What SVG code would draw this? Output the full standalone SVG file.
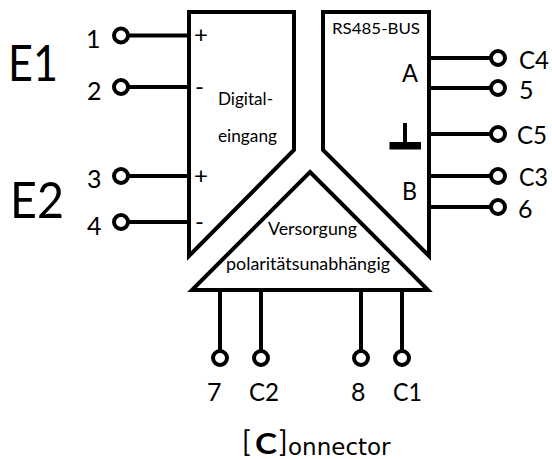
<svg xmlns="http://www.w3.org/2000/svg" width="552" height="459" viewBox="0 0 552 459">
<style>
text{font-family:Lato,"Noto Sans",sans-serif;fill:#000;font-weight:400}
.s{fill:#fff;stroke:#000;stroke-width:4}
.w{fill:none;stroke:#000;stroke-width:4}
.p{fill:#fff;stroke:#000;stroke-width:4}
.n{font-size:25px}
.l{font-size:18px}
.e{font-size:50px}
</style>
<rect width="552" height="459" fill="#fff"/>
<g id="connectors">
<path class="w" d="M129 35.500H189M129 87H189M129 176H189M129 222H189M429 58H497M429 88H497M429 134H497M429 176H497M429 207H497M220 291V358M261 291V358M361 291V358M402 291V358"/>
</g>
<g id="digital"><path class="s" d="M189 12H294V150L189 256Z"/>
<text x="194" y="43" font-size="24">+</text><text x="195" y="95" font-size="24">-</text><text x="194" y="184" font-size="24">+</text><text x="195" y="230" font-size="24">-</text>
<text class="l" x="218" y="105" textLength="55" lengthAdjust="spacingAndGlyphs">Digital-</text><text class="l" x="218" y="142" textLength="59" lengthAdjust="spacingAndGlyphs">eingang</text></g>
<g id="bus"><path class="s" d="M323 12H429V256L323 150Z"/>
<text x="332" y="34" font-size="16" textLength="88" lengthAdjust="spacingAndGlyphs">RS485-BUS</text>
<text x="402" y="82" font-size="25" textLength="16" lengthAdjust="spacingAndGlyphs">A</text><text x="402" y="200" font-size="25" textLength="15" lengthAdjust="spacingAndGlyphs">B</text>
<path class="w" d="M405 123V145"/><rect x="389.500" y="142" width="31.500" height="7.500" fill="#000"/></g>
<g id="supply"><path class="s" d="M310 172L428 290H192Z"/>
<text class="l" x="268" y="235" textLength="89" lengthAdjust="spacingAndGlyphs">Versorgung</text><text class="l" x="226" y="270" textLength="164" lengthAdjust="spacingAndGlyphs">polaritätsunabhängig</text></g>
<g id="pins">
<circle class="p" cx="121" cy="35.500" r="7"/><circle class="p" cx="121" cy="87" r="7"/><circle class="p" cx="121" cy="176" r="7"/><circle class="p" cx="121" cy="222" r="7"/>
<circle class="p" cx="498" cy="58" r="7"/><circle class="p" cx="498" cy="88" r="7"/><circle class="p" cx="498" cy="134" r="7"/><circle class="p" cx="498" cy="176" r="7"/><circle class="p" cx="498" cy="207" r="7"/>
<circle class="p" cx="220" cy="358" r="7"/><circle class="p" cx="261" cy="358" r="7"/><circle class="p" cx="361" cy="358" r="7"/><circle class="p" cx="402" cy="358" r="7"/>
</g>
<g id="labels">
<text class="e" x="8" y="81" textLength="50" lengthAdjust="spacingAndGlyphs">E1</text><text class="e" x="10" y="218" textLength="54" lengthAdjust="spacingAndGlyphs">E2</text>
<text class="n" x="86" y="48">1</text><text class="n" x="87" y="100">2</text><text class="n" x="87" y="188">3</text><text class="n" x="87" y="235">4</text>
<text class="n" x="519" y="69" textLength="30" lengthAdjust="spacingAndGlyphs">C4</text><text class="n" x="519" y="99">5</text><text class="n" x="517" y="144" textLength="30" lengthAdjust="spacingAndGlyphs">C5</text><text class="n" x="519" y="186" textLength="29" lengthAdjust="spacingAndGlyphs">C3</text><text class="n" x="518" y="218">6</text>
<text class="n" x="207" y="401">7</text><text class="n" x="249" y="401" textLength="30" lengthAdjust="spacingAndGlyphs">C2</text><text class="n" x="351" y="401">8</text><text class="n" x="393" y="401" textLength="29" lengthAdjust="spacingAndGlyphs">C1</text>
<text x="242" y="452" font-size="28" font-weight="400">[</text>
<text x="255" y="454" font-size="29" style="font-weight:700" textLength="22" lengthAdjust="spacingAndGlyphs">C</text>
<text x="279" y="452" font-size="28">]</text>
<text x="288" y="455" font-size="23" style="font-family:'DejaVu Sans',sans-serif">onnector</text>
</g>
</svg>
